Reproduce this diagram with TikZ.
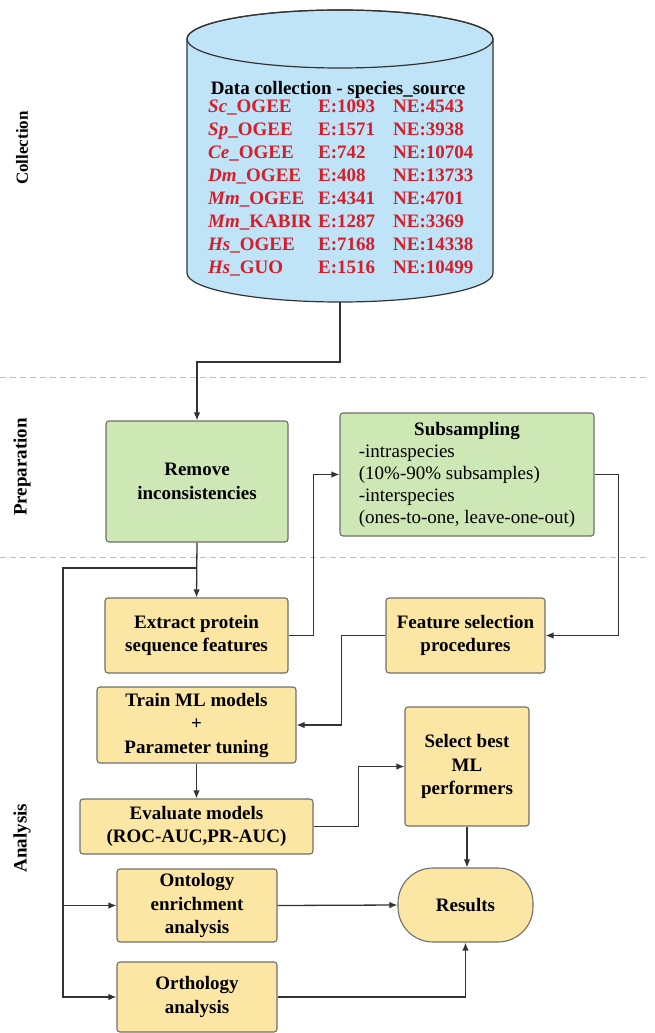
\documentclass[tikz,border=0pt]{standalone}
\usepackage{fontspec}
\setmainfont{Liberation Serif}
\usetikzlibrary{arrows.meta,calc}
\definecolor{cylblue}{HTML}{BFE3F7}
\definecolor{boxgreen}{HTML}{CDE8B5}
\definecolor{boxyellow}{HTML}{FCE6A4}
\definecolor{datared}{HTML}{D41E2A}
\definecolor{linegray}{HTML}{333333}
\definecolor{bordergray}{HTML}{6E6E6E}
\definecolor{dashgray}{HTML}{BDBDBD}
\begin{document}
\begin{tikzpicture}[x=1pt,y=-1pt,
  font=\fontsize{19}{23.5}\selectfont\bfseries,
  box/.style={draw=bordergray, line width=1.1pt, rounded corners=3pt, align=center, inner sep=0pt},
  gbox/.style={box, fill=boxgreen},
  ybox/.style={box, fill=boxyellow},
  conn/.style={draw=linegray, line width=1.3pt, -{Latex[length=8pt,width=6.5pt]}},
  plainline/.style={draw=linegray, line width=1.3pt},
  sepline/.style={draw=dashgray, line width=1pt, dash pattern=on 6pt off 4pt},
  lbl/.style={rotate=90, inner sep=0pt},
  row/.style={anchor=base west, text=datared, inner sep=0pt}
]
\useasboundingbox (0,0) rectangle (654,1033);

% separators
\draw[sepline] (0,377) -- (648,377);
\draw[sepline] (0,557) -- (648,557);

% side labels
\node[lbl, font=\fontsize{17}{20}\selectfont\bfseries] (lcol) at (22,148) {Collection};
\node[lbl] (lprep) at (22,467) {Preparation};
\node[lbl] (lana) at (22,838) {Analysis};

% cylinder
\filldraw[fill=cylblue, draw=linegray, line width=1.2pt]
  (187,39) -- (187,273) arc[start angle=180, end angle=0, x radius=153, y radius=29]
  -- (493,39) arc[start angle=0, end angle=-180, x radius=153, y radius=29] -- cycle;
\draw[linegray, line width=1.2pt] (340,39) ellipse [x radius=153, y radius=29];
\coordinate (cylbot) at (340,302);
\node[anchor=base, inner sep=0pt] (hdr) at (338,94.5) {Data collection - species\_source};
\foreach \sp/\src/\e/\ne [count=\i] in {Sc/OGEE/1093/4543, Sp/OGEE/1571/3938, Ce/OGEE/742/10704, Dm/OGEE/408/13733, Mm/OGEE/4341/4701, Mm/KABIR/1287/3369, Hs/OGEE/7168/14338, Hs/GUO/1516/10499}{
  \node[row] (sp\i) at (208,{89.5+23*\i}) {\textit{\sp}\_\src};
  \node[row] (e\i) at (318,{89.5+23*\i}) {E:\e};
  \node[row] (ne\i) at (393,{89.5+23*\i}) {NE:\ne};
}

% boxes
\node[gbox, minimum width=182pt, minimum height=121pt] (rem) at (197,481.5) {Remove\\inconsistencies};
\node[gbox, minimum width=254pt, minimum height=123pt, font=\fontsize{19}{23}\selectfont\mdseries] (sub) at (467,474.5)
  {\begin{tabular}{@{}l@{}}\multicolumn{1}{@{}c@{}}{\bfseries Subsampling}\\[-1pt] -intraspecies\\[-1pt] (10\%-90\% subsamples)\\[-1pt] -interspecies\\[-1pt] (ones-to-one, leave-one-out)\end{tabular}};
\node[ybox, minimum width=183pt, minimum height=75pt] (ext) at (196.5,635.5) {Extract protein\\sequence features};
\node[ybox, minimum width=159pt, minimum height=75pt] (feat) at (465.5,635.5) {Feature selection\\procedures};
\node[ybox, minimum width=199pt, minimum height=76pt] (train) at (196.5,725) {Train ML models\\+\\Parameter tuning};
\node[ybox, minimum width=233pt, minimum height=55pt] (eval) at (196.5,826.5) {Evaluate models\\(ROC-AUC,PR-AUC)};
\node[ybox, minimum width=124pt, minimum height=119pt] (sel) at (467,766.5) {Select best\\ML\\performers};
\node[ybox, minimum width=135pt, minimum height=74pt, rounded corners=35pt] (res) at (465.5,905) {Results};
\node[ybox, minimum width=160pt, minimum height=73pt] (onto) at (197,905.5) {Ontology\\enrichment\\analysis};
\node[ybox, minimum width=160pt, minimum height=70pt] (orth) at (197,997) {Orthology\\analysis};

% connectors
\draw[conn] (cylbot) -- ++(0,60) -| (rem.north);
\draw[conn] (rem.south) -- (ext.north);
\coordinate (br) at (197,568);
\coordinate (lft) at (63,568);
\draw[conn] (br) -- (lft) |- (orth.west);
\draw[conn] (lft |- onto.west) -- (onto.west);
\draw[conn] (ext.east) -- ++(25,0) |- (sub.west);
\draw[conn] (sub.east) -- ++(24,0) |- (feat.east);
\draw[conn] (feat.west) -- ++(-44,0) |- (train.east);
\draw[conn] (train.south) -- (eval.north);
\draw[conn] (eval.east) -- ++(45,0) |- (sel.west);
\draw[conn] (sel.south) -- (sel.south |- res.north);
\draw[conn] (onto.east) -- (res.west);
\draw[conn] (orth.east) -| (res.south);
\end{tikzpicture}
\end{document}
